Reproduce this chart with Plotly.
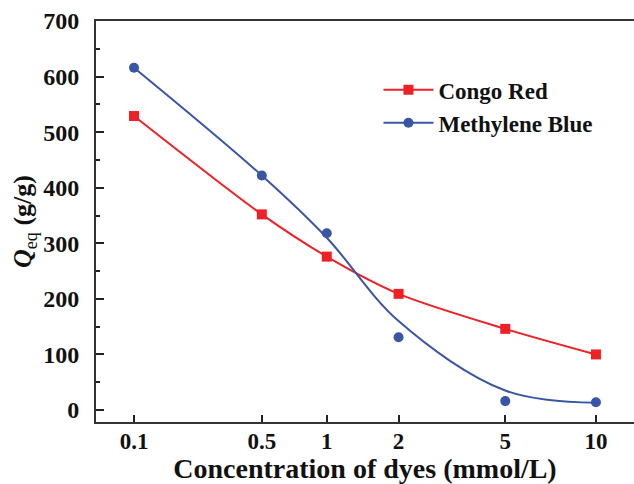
import numpy as np
import plotly.graph_objects as go

# Dye concentration (mmol/L) and equilibrium uptake Q_eq (g/g)
conc = [0.1, 0.5, 1, 2, 5, 10]
conc_labels = ["0.1", "0.5", "1", "2", "5", "10"]
congo_red = [529, 352, 276, 209, 146, 100]
methylene_blue = [616, 422, 318, 131, 16, 14]

# Smoothed trend drawn through the methylene blue data
mb_fit_conc = [0.1, 0.5, 1, 2, 5, 10]
mb_fit = [616, 422, 310, 160, 35, 13]

y_ticks = [0, 100, 200, 300, 400, 500, 600, 700]

# Compressed concentration scale used for the x axis
POWER = 0.145


def cscale(c):
    return np.power(np.asarray(c, dtype=float), POWER)


RED = "#ee2127"
BLUE = "#3a55a6"
FONT = "Times New Roman, Liberation Serif, serif"

fig = go.Figure()

fig.add_trace(go.Scatter(
    x=cscale(conc), y=congo_red, name="<b>Congo Red</b>",
    mode="lines+markers", line=dict(color=RED, width=2, shape="spline", smoothing=0.8),
    marker=dict(symbol="square", size=10, color=RED),
))

fig.add_trace(go.Scatter(
    x=cscale(mb_fit_conc), y=mb_fit, mode="lines", showlegend=False,
    line=dict(color=BLUE, width=2, shape="spline", smoothing=1.0),
    hoverinfo="skip",
))
fig.add_trace(go.Scatter(
    x=cscale(conc), y=methylene_blue, mode="markers", showlegend=False,
    marker=dict(symbol="circle", size=10, color=BLUE),
))
# legend entry showing line + marker for methylene blue
fig.add_trace(go.Scatter(
    x=[None], y=[None], name="<b>Methylene Blue</b>", mode="lines+markers",
    line=dict(color=BLUE, width=2), marker=dict(symbol="circle", size=10, color=BLUE),
))

x0 = cscale(0.1)
px_per_unit = 679.1
fig.update_xaxes(
    range=[x0 - 38 / px_per_unit, x0 + 500 / px_per_unit],
    tickvals=cscale(conc), ticktext=["<b>%s</b>" % t for t in conc_labels],
    ticks="inside", ticklen=7, tickwidth=1.5, tickcolor="#222",
    showline=True, linecolor="#333", linewidth=2, mirror=True,
    showgrid=False, zeroline=False,
    tickfont=dict(family=FONT, size=23, color="#111"),
    ticklabelstandoff=-3,
    title=dict(text="<b>Concentration of dyes (mmol/L)</b>", standoff=0,
               font=dict(family=FONT, size=28, color="#111")),
)
fig.update_yaxes(
    range=[-21.6, 700], tickvals=y_ticks, ticktext=["<b>%d</b>" % v for v in y_ticks],
    ticks="inside", ticklen=8, tickwidth=1.5, tickcolor="#222",
    minor=dict(dtick=50, ticks="inside", ticklen=4, tickwidth=1.5, tickcolor="#222"),
    showline=True, linecolor="#333", linewidth=2, mirror=False,
    showgrid=False, zeroline=False,
    tickfont=dict(family=FONT, size=24, color="#111"),
    ticklabelstandoff=10,
    title=dict(text="<b><i>Q</i></b><sub>eq</sub><b> (g/g)</b>", standoff=4,
               font=dict(family=FONT, size=26, color="#111")),
)

fig.update_layout(
    width=634, height=484,
    margin=dict(l=96, r=0, t=21, b=62),
    paper_bgcolor="white", plot_bgcolor="white",
    showlegend=True,
    legend=dict(x=0.525, y=0.882, xanchor="left", yanchor="top",
                bgcolor="rgba(0,0,0,0)", itemwidth=50,
                font=dict(family=FONT, size=23, color="#111")),
)

fig.write_html("out.html")
